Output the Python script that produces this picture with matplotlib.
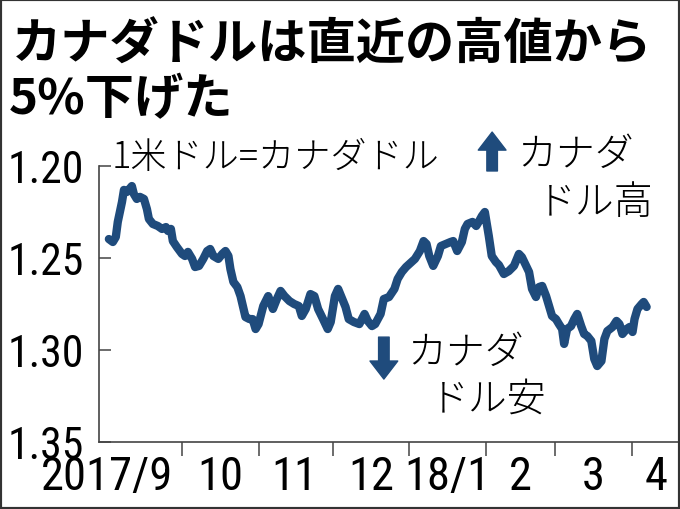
import matplotlib
matplotlib.use('Agg')
import matplotlib.pyplot as plt
from matplotlib.patches import Rectangle

plt.rcParams['font.family'] = ['Noto Sans CJK JP', 'DejaVu Sans']
num_font = ['Roboto Condensed', 'DejaVu Sans']

# US dollar in Canadian dollars, x = days since 2017-09-01
days = [0.4, 2.0, 3.2, 4.0, 5.7, 6.5, 7.7, 9.7, 10.5, 11.7, 13.0, 14.6, 15.8, 16.6,
        18.2, 20.2, 21.9, 23.5, 24.3, 25.5, 26.3, 27.9, 30.0,
        31.2, 32.4, 34.1, 35.3, 36.9, 38.6, 40.2, 41.4, 42.7, 44.7, 46.3, 47.6, 48.8,
        49.6, 50.8, 52.4, 53.7, 54.9, 55.7, 57.3, 58.6, 59.8, 61.0,
        62.9, 64.9, 66.8, 68.4, 69.9, 71.5, 73.5, 75.4, 77.3, 78.5, 80.1, 82.0, 83.6,
        85.1, 87.1, 89.0, 90.2,
        91.9, 93.2, 94.4, 96.2, 97.5, 99.6, 101.8, 103.9, 105.2, 106.9, 108.2, 110.4,
        111.7, 113.8, 116.0, 117.3, 119.0, 120.7,
        122.0, 124.3, 126.3, 127.8, 129.0, 130.1, 131.7, 133.6, 134.8, 136.7, 138.7,
        139.8, 141.4, 143.3, 144.5, 145.6, 147.6, 149.1, 150.3, 151.4, 152.6,
        154.2, 155.4, 157.1, 158.3, 160.3, 162.3, 164.4, 166.4, 167.6, 169.3, 170.5,
        171.7, 173.3, 174.5, 175.8, 177.4, 178.6, 179.8,
        181.4, 182.6, 183.9, 184.7, 185.9, 187.5, 188.8, 190.0, 191.6, 192.8, 194.1,
        195.7, 196.9, 198.1, 199.8, 201.0, 202.2, 204.3, 205.9, 207.1, 208.3, 210.0, 211.2,
        212.4, 213.2, 214.4, 216.1, 216.9, 218.1]
rates = [1.2397, 1.2413, 1.2386, 1.2304, 1.2196, 1.2130, 1.2141, 1.2109, 1.2152, 1.2179,
         1.2168, 1.2179, 1.2234, 1.2288, 1.2315, 1.2326, 1.2342, 1.2332, 1.2353, 1.2342,
         1.2408, 1.2440, 1.2478,
         1.2489, 1.2467, 1.2505, 1.2549, 1.2543, 1.2505, 1.2462, 1.2451, 1.2489, 1.2505,
         1.2478, 1.2462, 1.2489, 1.2560, 1.2630, 1.2658, 1.2707, 1.2777, 1.2821, 1.2832,
         1.2832, 1.2886, 1.2859,
         1.2761, 1.2707, 1.2777, 1.2723, 1.2679, 1.2707, 1.2734, 1.2750, 1.2761, 1.2815,
         1.2777, 1.2696, 1.2707, 1.2777, 1.2832, 1.2886, 1.2848,
         1.2707, 1.2668, 1.2707, 1.2766, 1.2832, 1.2848, 1.2859, 1.2804, 1.2842, 1.2870,
         1.2859, 1.2804, 1.2723, 1.2712, 1.2668, 1.2614, 1.2576, 1.2549,
         1.2533, 1.2505, 1.2462, 1.2408, 1.2424, 1.2489, 1.2543, 1.2489, 1.2435, 1.2424,
         1.2413, 1.2408, 1.2462, 1.2413, 1.2342, 1.2315, 1.2304, 1.2326, 1.2299, 1.2272,
         1.2250,
         1.2380, 1.2489, 1.2522, 1.2538, 1.2587, 1.2571, 1.2543, 1.2478, 1.2495, 1.2543,
         1.2576, 1.2668, 1.2712, 1.2658, 1.2652, 1.2707, 1.2761, 1.2815,
         1.2832, 1.2859, 1.2886, 1.2967, 1.2886, 1.2870, 1.2832, 1.2804, 1.2870, 1.2913,
         1.2924, 1.2951, 1.3049, 1.3087, 1.3060, 1.2940, 1.2897, 1.2875, 1.2842, 1.2859,
         1.2913, 1.2886, 1.2875,
         1.2902, 1.2832, 1.2777, 1.2750, 1.2739, 1.2766]

month_starts = [30, 61, 91, 122, 153, 181, 212]  # Oct 1 ... Apr 1
label_pos = [26.3, 45.5, 75.5, 106.5, 137.5, 167, 196.5, 222]
month_labels = ['2017/9', '10', '11', '12', '18/1', '2', '3', '4']
y_ticks = [1.20, 1.25, 1.30, 1.35]

navy = '#1f4b7c'
grey = '#444444'

fig = plt.figure(figsize=(6.8, 5.1), dpi=100)
ax = fig.add_axes([99 / 680, 67 / 510, 579 / 680, 276 / 510])

ax.plot(days, rates, color=navy, lw=6, solid_joinstyle='round', solid_capstyle='round')
ax.set_xlim(-3.6, 230.8)
ax.set_ylim(1.35, 1.20)

ax.spines['top'].set_visible(False)
ax.spines['right'].set_visible(False)
for s in ['left', 'bottom']:
    ax.spines[s].set_color(grey)
    ax.spines[s].set_linewidth(1.2)

ax.set_yticks(y_ticks)
ax.set_yticklabels([f'{v:.2f}' for v in y_ticks], fontfamily=num_font, fontsize=31.5)
ax.tick_params(axis='y', direction='in', length=8.6, width=1.1, color=grey, pad=11)

ax.set_xticks(month_starts)
ax.tick_params(axis='x', which='major', direction='out', length=10, width=1.1,
               color=grey, labelbottom=False)
ax.set_xticks(label_pos, minor=True)
ax.set_xticklabels(month_labels, minor=True, fontfamily=num_font, fontsize=33.5)
ax.tick_params(axis='x', which='minor', length=0, pad=8.5)
ax.xaxis.get_minor_ticks()[0].label1.set_horizontalalignment('right')

# annotations
ax.text(0.0225, 1.033, '1米ドル=カナダドル', transform=ax.transAxes, fontsize=26,
        va='center', ha='left', fontweight='light')
ax.text(0.722, 1.043, 'カナダ', transform=ax.transAxes, fontsize=28, va='center', ha='left',
        fontweight='light')
ax.text(0.756, 0.870, 'ドル高', transform=ax.transAxes, fontsize=28, va='center', ha='left',
        fontweight='light')
ax.text(0.532, 0.326, 'カナダ', transform=ax.transAxes, fontsize=28, va='center', ha='left',
        fontweight='light')
ax.text(0.572, 0.156, 'ドル安', transform=ax.transAxes, fontsize=28, va='center', ha='left',
        fontweight='light')

arrow = dict(arrowstyle='simple,head_width=1.0,head_length=0.65,tail_width=0.38',
             color=navy, shrinkA=0, shrinkB=0, mutation_scale=20)
ax.annotate('', xy=(0.679, 1.123), xytext=(0.679, 0.982), xycoords='axes fraction',
            arrowprops=arrow)
ax.annotate('', xy=(0.492, 0.228), xytext=(0.492, 0.380), xycoords='axes fraction',
            arrowprops=arrow)

fig.text(0.018, 0.912, 'カナダドルは直近の高値から', fontsize=35.5, fontweight='bold',
         va='center', ha='left')
fig.text(0.013, 0.804, '5%下げた', fontsize=35.5, fontweight='bold', va='center', ha='left')

fig.add_artist(Rectangle((0, 0), 1, 1, transform=fig.transFigure, fill=False,
                         edgecolor='#333333', lw=3))

fig.savefig('out.png', dpi=100)
